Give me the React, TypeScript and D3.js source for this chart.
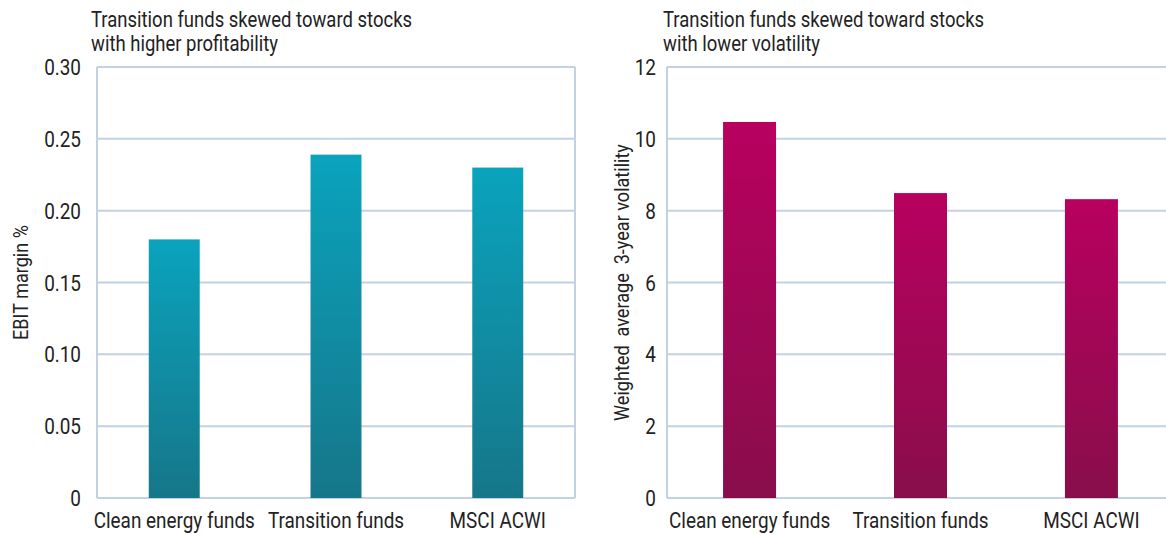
import * as d3 from "d3";

const categories = ["Clean energy funds", "Transition funds", "MSCI ACWI"];
const ebitMargin = [0.18, 0.239, 0.23];
const volatility = [10.47, 8.49, 8.32];
const ebitTicks = [0, 0.05, 0.1, 0.15, 0.2, 0.25, 0.3];
const ebitTickLabels = ["0", "0.05", "0.10", "0.15", "0.20", "0.25", "0.30"];
const volTicks = [0, 2, 4, 6, 8, 10, 12];
const volTickLabels = ["0", "2", "4", "6", "8", "10", "12"];

const W = 1166;
const H = 534;
const font = "Roboto, 'Noto Sans', sans-serif";
const gridColor = "#c3d2e2";
const textColor = "#222";

// condensed look: squeeze text horizontally
const SX = 0.86;

function CText({ x, y, anchor = "start", size = 18, rotate = 0, children }: any) {
  return (
    <g transform={`translate(${x},${y}) rotate(${rotate}) scale(${SX},1)`}>
      <text
        textAnchor={anchor}
        fontSize={size}
        fontFamily={font}
        fill={textColor}
        style={{ whiteSpace: "pre" }}
      >
        {children}
      </text>
    </g>
  );
}

function Panel({ id, values, ticks, tickLabels, max, left, right, title, yTitle, colors, pad, tickGap }: any) {
  const top = 67;
  const bottom = 498;
  const x = d3.scaleBand<string>().domain(categories).range([left, right])
    .paddingInner(pad.inner).paddingOuter(pad.outer).align(pad.align);
  const y = d3.scaleLinear().domain([0, max]).range([bottom, top]);
  return (
    <g>
      <defs>
        <linearGradient id={id} x1="0" y1="0" x2="0" y2="1" gradientUnits="objectBoundingBox">
          <stop offset="0" stopColor={colors[0]} />
          <stop offset="1" stopColor={colors[1]} />
        </linearGradient>
      </defs>
      <CText x={title.x} y={27} size={21.5}>{title.lines[0]}</CText>
      <CText x={title.x} y={51} size={21.5}>{title.lines[1]}</CText>
      {ticks.map((t: number, i: number) => (
        <g key={t}>
          <line x1={left} x2={right} y1={y(t)} y2={y(t)} stroke={gridColor} strokeWidth={2} />
          <CText x={left - tickGap} y={y(t) + 8} anchor="end" size={22}>{tickLabels[i]}</CText>
        </g>
      ))}
      <line x1={left} x2={left} y1={top} y2={bottom} stroke={gridColor} strokeWidth={2} />
      <line x1={right} x2={right} y1={top} y2={bottom} stroke={gridColor} strokeWidth={2} />
      {values.map((v: number, i: number) => (
        <rect
          key={i}
          x={x(categories[i])}
          width={x.bandwidth()}
          y={y(v)}
          height={bottom - y(v)}
          fill={`url(#${id})`}
        />
      ))}
      {categories.map((c) => (
        <CText key={c} x={(x(c) as number) + x.bandwidth() / 2} y={528} anchor="middle" size={22}>{c}</CText>
      ))}
      <CText x={yTitle.x} y={(top + bottom) / 2} anchor="middle" size={21} rotate={-90}>{yTitle.text}</CText>
    </g>
  );
}

export default function App() {
  return (
    <svg width={W} height={H} style={{ position: "absolute", left: 0, top: 0, background: "#fff" }}>
      <Panel
        id="gTeal"
        values={ebitMargin}
        ticks={ebitTicks}
        tickLabels={ebitTickLabels}
        max={0.3}
        left={97}
        right={575}
        tickGap={16}
        title={{ x: 91, lines: ["Transition funds skewed toward stocks", "with higher profitability"] }}
        yTitle={{ text: "EBIT margin %", x: 28 }}
        colors={["#0aa3bd", "#167689"]}
        pad={{ inner: 0.685, outer: 0.32, align: 0.5 }}
      />
      <Panel
        id="gMag"
        values={volatility}
        ticks={volTicks}
        tickLabels={volTickLabels}
        max={12}
        left={667}
        right={1174}
        tickGap={11}
        title={{ x: 663, lines: ["Transition funds skewed toward stocks", "with lower volatility"] }}
        yTitle={{ text: "Weighted  average  3-year volatility", x: 629 }}
        colors={["#b8005f", "#880e4b"]}
        pad={{ inner: 0.69, outer: 0.328, align: 0.5 }}
      />
    </svg>
  );
}
